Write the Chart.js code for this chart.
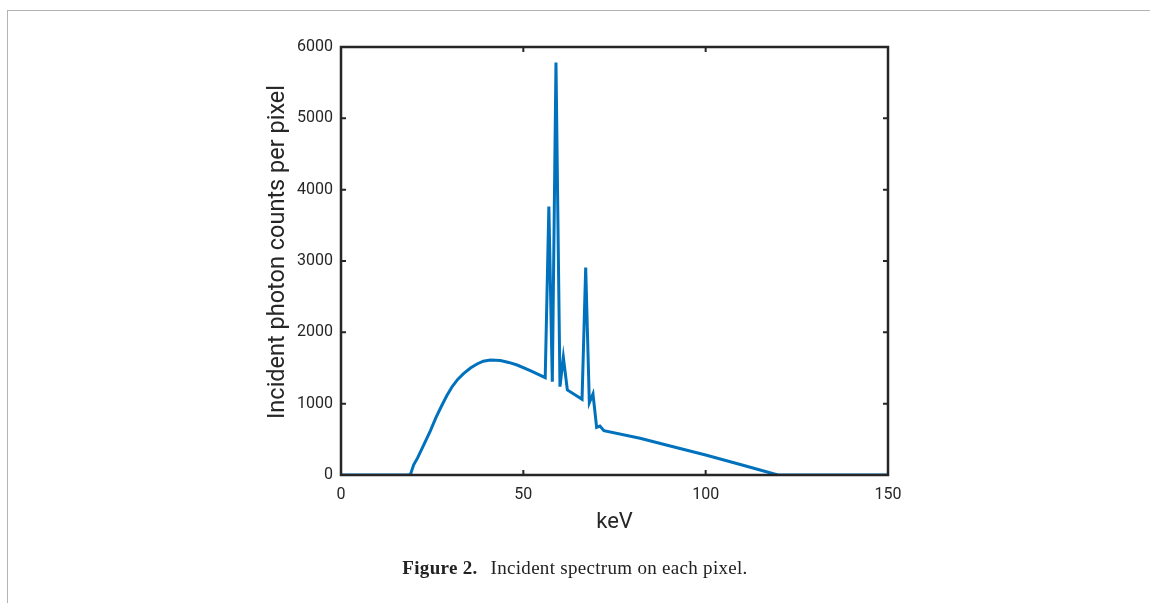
<!DOCTYPE html>
<html>
<head>
<meta charset="utf-8">
<script src="https://cdn.jsdelivr.net/npm/chart.js@4.4.0/dist/chart.umd.min.js"></script>
<style>
  html, body { margin: 0; padding: 0; background: #fff; }
  #wrap { position: relative; width: 1150px; height: 603px; overflow: hidden; }
  #frame { position: absolute; left: 7px; top: 10px; width: 1200px; height: 700px; border: 1px solid #b4b4b4; }
  #c { position: absolute; left: 0; top: 0; }
  #caption { position: absolute; left: 0; width: 1150px; top: 557px; text-align: center;
    font-family: "Liberation Serif", serif; font-size: 19px; letter-spacing: 0.3px; color: #222; }
  #caption b { margin-right: 8px; }
</style>
</head>
<body>
<div id="wrap">
  <div id="frame"></div>
  <canvas id="c" width="1150" height="603"></canvas>
  <div id="caption"><b>Figure 2.</b> Incident spectrum on each pixel.</div>
</div>
<script>
// spectrum (keV, counts per pixel)
const energy = [0, 10, 19, 19.9, 21, 22.5, 24.5, 26, 27.5, 29, 30.5, 32, 33.6, 35.5, 37.3, 39, 41, 43.7, 46, 48.3, 51.9, 56,
  57, 57.95, 58.95, 60.05, 60.97, 62.07, 66.1, 67.1, 68.1, 69.1, 70.1, 71, 72.1,
  82, 90, 100, 110, 119.8, 130, 140, 150];
const counts = [0, 0, 0, 140, 240, 400, 620, 800, 960, 1110, 1240, 1340, 1420, 1500, 1556, 1595, 1612, 1605, 1578, 1542, 1462, 1364,
  3762, 1308, 5781, 1238, 1650, 1192, 1061, 2907, 1014, 1136, 668, 687, 621,
  514, 410, 280, 140, 0, 0, 0, 0];
const xTicks = [0, 50, 100, 150];
const yTicks = [0, 1000, 2000, 3000, 4000, 5000, 6000];

const points = energy.map((e, i) => ({ x: e, y: counts[i] }));

// box around the axes with inward ticks on all four sides (MATLAB style)
const boxPlugin = {
  id: 'box',
  afterDatasetsDraw(chart) {
    const { ctx, chartArea: a, scales } = chart;
    ctx.save();
    ctx.strokeStyle = '#262626';
    ctx.lineWidth = 2.5;
    ctx.strokeRect(a.left, a.top, a.right - a.left, a.bottom - a.top);
    ctx.lineWidth = 2;
    const len = 5;
    xTicks.forEach(v => {
      const px = scales.x.getPixelForValue(v);
      ctx.beginPath();
      ctx.moveTo(px, a.bottom); ctx.lineTo(px, a.bottom - len);
      ctx.moveTo(px, a.top); ctx.lineTo(px, a.top + len);
      ctx.stroke();
    });
    yTicks.forEach(v => {
      const py = scales.y.getPixelForValue(v);
      ctx.beginPath();
      ctx.moveTo(a.left, py); ctx.lineTo(a.left + len, py);
      ctx.moveTo(a.right, py); ctx.lineTo(a.right - len, py);
      ctx.stroke();
    });
    ctx.restore();
  }
};

// axis titles drawn by hand so they sit where the figure has them
const titlesPlugin = {
  id: 'titles',
  afterDraw(chart) {
    const { ctx, chartArea: a } = chart;
    ctx.save();
    ctx.fillStyle = '#262626';
    ctx.textAlign = 'center';
    ctx.textBaseline = 'middle';
    ctx.font = '22px Roboto';
    ctx.fillText('keV', (a.left + a.right) / 2, 522);
    ctx.translate(278, 252);
    ctx.rotate(-Math.PI / 2);
    ctx.font = '23.5px Roboto';
    ctx.fillText('Incident photon counts per pixel', 0, 0);
    ctx.restore();
  }
};

new Chart(document.getElementById('c'), {
  type: 'line',
  data: {
    datasets: [{
      data: points,
      borderColor: '#0072BD',
      borderWidth: 3,
      pointRadius: 0,
      tension: 0,
      fill: false
    }]
  },
  options: {
    responsive: false,
    animation: false,
    layout: { padding: { left: 0, top: 47, right: 262, bottom: 0 } },
    plugins: { legend: { display: false }, tooltip: { enabled: false } },
    scales: {
      x: {
        type: 'linear', min: 0, max: 150,
        afterBuildTicks: s => { s.ticks = xTicks.map(v => ({ value: v })); },
        afterFit: s => { s.height = 128; },
        grid: { display: false, drawTicks: false },
        border: { display: false },
        ticks: { color: '#262626', padding: 10, maxRotation: 0,
          callback: v => String(v),
          font: { family: 'Roboto', size: 16 } }
      },
      y: {
        type: 'linear', min: 0, max: 6000,
        afterBuildTicks: s => { s.ticks = yTicks.map(v => ({ value: v })); },
        afterFit: s => { s.width = 341; },
        grid: { display: false, drawTicks: false },
        border: { display: false },
        ticks: { color: '#262626', padding: 8,
          callback: v => String(v),
          font: { family: 'Roboto', size: 16 } }
      }
    }
  },
  plugins: [boxPlugin, titlesPlugin]
});
</script>
</body>
</html>
